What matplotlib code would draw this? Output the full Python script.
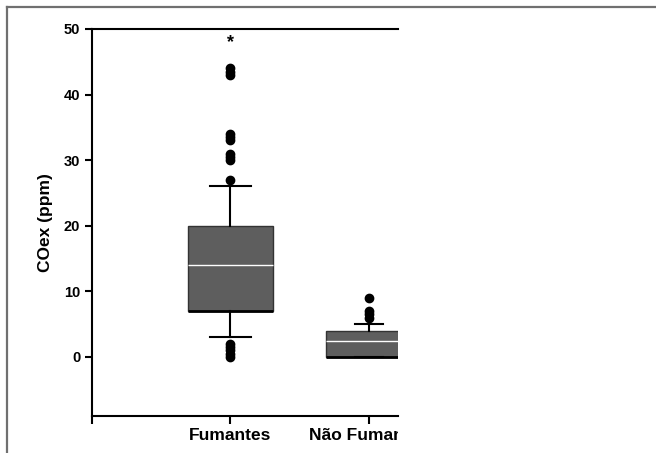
import matplotlib.pyplot as plt
from matplotlib.lines import Line2D
from matplotlib.transforms import Bbox, TransformedBbox

# Box statistics
grupos = ['Fumantes', 'Não Fumantes']
q1 = [7, 0]
mediana = [14, 2.5]
q3 = [20, 4]
bigode_inf = [3, 0]
bigode_sup = [26, 5]
outliers = [
    [0, 0.5, 1, 1.5, 2, 27, 30, 30.5, 31, 33, 33.5, 34, 43, 43.5, 44],
    [6, 6.5, 7, 9],
]
asterisco_y = 48

plt.rcParams['font.family'] = ['Liberation Sans', 'DejaVu Sans']
plt.rcParams['font.weight'] = 'bold'

fig = plt.figure(figsize=(6.56, 4.53), dpi=100)
ax = fig.add_axes([0.1402, 0.0817, 0.4665, 0.8543])

stats = []
for i in range(len(grupos)):
    stats.append({
        'med': mediana[i], 'q1': q1[i], 'q3': q3[i],
        'whislo': bigode_inf[i], 'whishi': bigode_sup[i],
        'fliers': outliers[i], 'label': grupos[i],
    })

ax.bxp(stats, positions=[1, 2], widths=0.62, capwidths=[0.3, 0.2],
       patch_artist=True, showfliers=True,
       boxprops=dict(facecolor='#5e5e5e', edgecolor='#333333', linewidth=1),
       medianprops=dict(color='white', linewidth=1),
       whiskerprops=dict(color='black', linewidth=1.5),
       capprops=dict(color='black', linewidth=1.5),
       flierprops=dict(marker='o', markerfacecolor='black', markeredgecolor='black',
                       markersize=6, linestyle='none'))

# thick black line on the lower edge of each box
for i in range(len(grupos)):
    ax.plot([i + 1 - 0.31, i + 1 + 0.31], [q1[i], q1[i]], color='black', lw=2, solid_capstyle='butt')

ax.text(1, asterisco_y, '*', ha='center', va='center', fontsize=13, fontweight='bold')

ax.set_xlim(0, 2.21)
ax.set_ylim(-9, 50)
ax.set_yticks([0, 10, 20, 30, 40, 50])
ax.set_xticks([0, 1, 2])
ax.set_xticklabels(['', grupos[0], grupos[1]], fontsize=12.5, fontweight='bold')
ax.set_ylabel('COex (ppm)', fontsize=12.5, fontweight='bold', labelpad=8)
ax.tick_params(axis='y', labelsize=10.5, width=1.5, length=5, direction='out')
ax.tick_params(axis='x', width=1.5, length=6, direction='out', pad=3)

for s in ['left', 'bottom', 'top']:
    ax.spines[s].set_linewidth(1.5)
ax.spines['right'].set_visible(False)

# the chart is cut off on the right, labels included
corte = TransformedBbox(Bbox([[0, 0], [398 / 656, 1]]), fig.transFigure)
for lbl in ax.get_xticklabels():
    lbl.set_clip_box(corte)
    lbl.set_clip_on(True)

# grey frame on the figure's top and left edges
fig.add_artist(Line2D([7 / 656, 1], [1 - 6.5 / 453, 1 - 6.5 / 453], color='#707070', lw=1.6))
fig.add_artist(Line2D([7 / 656, 7 / 656], [0, 1 - 6.5 / 453], color='#707070', lw=1.6))

fig.savefig('out.png', dpi=100)
